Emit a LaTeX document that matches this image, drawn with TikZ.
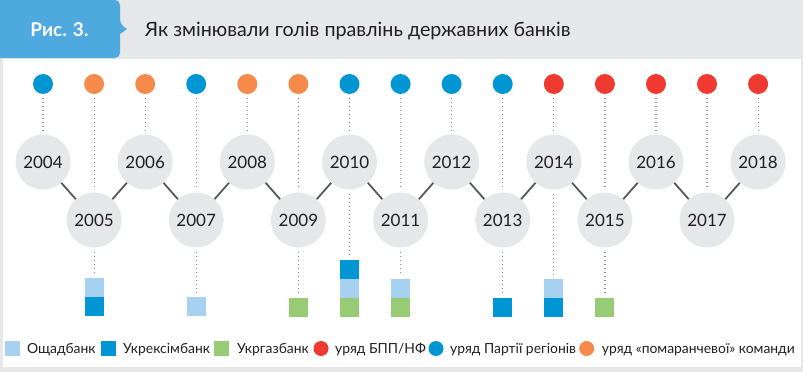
\documentclass[tikz,border=0pt]{standalone}
\usepackage{fontspec}
\setmainfont{Lato}
\usetikzlibrary{positioning}
\definecolor{tabblue}{HTML}{4EA9DE}
\definecolor{bggray}{HTML}{E6E7E8}
\definecolor{circgray}{HTML}{E6E7E8}
\definecolor{linkgray}{HTML}{58595B}
\definecolor{dotgray}{HTML}{8A8C8F}
\definecolor{txtdark}{HTML}{231F20}
\definecolor{oschad}{HTML}{A6D1F1}
\definecolor{ukrexim}{HTML}{0095D3}
\definecolor{ukrgaz}{HTML}{97CB74}
\definecolor{govred}{HTML}{EE3A31}
\definecolor{govblue}{HTML}{0095D3}
\definecolor{govorange}{HTML}{F58A4B}
\newcommand{\fs}[1]{\fontsize{#1}{#1}\selectfont}
\tikzset{
  yearnode/.style={circle, fill=circgray, minimum size=55pt, inner sep=0pt,
                   font=\fs{17}, text=txtdark},
  govdot/.style={circle, fill=#1, minimum size=20pt, inner sep=0pt},
  govdot/.default=govblue,
  bank/.style={rectangle, fill=#1, minimum size=19pt, inner sep=0pt,
               outer sep=0pt},
  lnk/.style={line width=1.8pt, draw=linkgray},
  dots/.style={draw=dotgray, line width=1.2pt, dash pattern=on 1.2pt off 2.8pt,
               shorten <=4pt, shorten >=4pt},
  keysq/.style={rectangle, fill=#1, minimum size=15pt, inner sep=0pt},
  keydot/.style={circle, fill=#1, minimum size=15pt, inner sep=0pt},
  keytxt/.style={anchor=base west, inner sep=0pt, font=\fs{13.9}, text=txtdark},
}

\begin{document}
\begin{tikzpicture}[x=1pt, y=-1pt]
  \useasboundingbox (0,0) rectangle (803,372);
  \fill[bggray] (0,0) rectangle (803,372);
  \fill[white] (3,59) rectangle (801,366.5);
  % title tab
  \fill[tabblue, rounded corners=5pt] (-10,0) -- (120,0) -- (120,24) [sharp corners] -- (127,29) -- (120,34) [rounded corners=5pt] -- (120,58) -- (-10,58) -- cycle;
  \node[anchor=base, inner sep=0pt, font=\fs{19}\bfseries, text=white] (fig) at (59.5,36.5) {Рис. 3.};
  \node[anchor=base west, inner sep=0pt, font=\fs{19.7}, text=txtdark] (title) at (145,36.5) {Як змінювали голів правлінь державних банків};

  % governments
  \node[govdot=govblue] (g2004) at (43.0,84) {};
  \node[govdot=govorange] (g2005) at (94.1,84) {};
  \node[govdot=govorange] (g2006) at (145.2,84) {};
  \node[govdot=govblue] (g2007) at (196.2,84) {};
  \node[govdot=govorange] (g2008) at (247.3,84) {};
  \node[govdot=govorange] (g2009) at (298.4,84) {};
  \node[govdot=govblue] (g2010) at (349.5,84) {};
  \node[govdot=govblue] (g2011) at (400.6,84) {};
  \node[govdot=govblue] (g2012) at (451.6,84) {};
  \node[govdot=govblue] (g2013) at (502.7,84) {};
  \node[govdot=govred] (g2014) at (553.8,84) {};
  \node[govdot=govred] (g2015) at (604.9,84) {};
  \node[govdot=govred] (g2016) at (656.0,84) {};
  \node[govdot=govred] (g2017) at (707.0,84) {};
  \node[govdot=govred] (g2018) at (758.1,84) {};

  % years
  \node[yearnode] (y2004) at (43.0,162) {2004};
  \node[yearnode] (y2005) at (94.1,220) {2005};
  \node[yearnode] (y2006) at (145.2,162) {2006};
  \node[yearnode] (y2007) at (196.2,220) {2007};
  \node[yearnode] (y2008) at (247.3,162) {2008};
  \node[yearnode] (y2009) at (298.4,220) {2009};
  \node[yearnode] (y2010) at (349.5,162) {2010};
  \node[yearnode] (y2011) at (400.6,220) {2011};
  \node[yearnode] (y2012) at (451.6,162) {2012};
  \node[yearnode] (y2013) at (502.7,220) {2013};
  \node[yearnode] (y2014) at (553.8,162) {2014};
  \node[yearnode] (y2015) at (604.9,220) {2015};
  \node[yearnode] (y2016) at (656.0,162) {2016};
  \node[yearnode] (y2017) at (707.0,220) {2017};
  \node[yearnode] (y2018) at (758.1,162) {2018};

  \draw[lnk] (y2004) -- (y2005) -- (y2006) -- (y2007) -- (y2008) -- (y2009) -- (y2010) -- (y2011);
  \draw[lnk] (y2011) -- (y2012) -- (y2013) -- (y2014) -- (y2015) -- (y2016) -- (y2017) -- (y2018);

  % bank heads replaced
  \node[bank=ukrexim] (b2005a) at (94.1,306.5) {};
  \node[bank=oschad, above=0pt of b2005a] (b2005b) {};
  \node[bank=oschad] (b2007a) at (196.2,306.5) {};
  \node[bank=ukrgaz] (b2009a) at (298.4,307.5) {};
  \node[bank=ukrgaz] (b2010a) at (349.5,307.5) {};
  \node[bank=oschad, above=0pt of b2010a] (b2010b) {};
  \node[bank=ukrexim, above=0pt of b2010b] (b2010c) {};
  \node[bank=ukrgaz] (b2011a) at (400.6,307.5) {};
  \node[bank=oschad, above=0pt of b2011a] (b2011b) {};
  \node[bank=ukrexim] (b2013a) at (502.7,307.5) {};
  \node[bank=ukrexim] (b2014a) at (553.8,307.5) {};
  \node[bank=oschad, above=0pt of b2014a] (b2014b) {};
  \node[bank=ukrgaz] (b2015a) at (604.9,307.5) {};

  % dotted leaders
  \draw[dots] (g2004) -- (y2004);
  \draw[dots] (g2005) -- (y2005);
  \draw[dots] (g2006) -- (y2006);
  \draw[dots] (g2007) -- (y2007);
  \draw[dots] (g2008) -- (y2008);
  \draw[dots] (g2009) -- (y2009);
  \draw[dots] (g2010) -- (y2010);
  \draw[dots] (g2011) -- (y2011);
  \draw[dots] (g2012) -- (y2012);
  \draw[dots] (g2013) -- (y2013);
  \draw[dots] (g2014) -- (y2014);
  \draw[dots] (g2015) -- (y2015);
  \draw[dots] (g2016) -- (y2016);
  \draw[dots] (g2017) -- (y2017);
  \draw[dots] (g2018) -- (y2018);
  \draw[dots] (y2005) -- (b2005b);
  \draw[dots] (y2007) -- (b2007a);
  \draw[dots] (y2009) -- (b2009a);
  \draw[dots] (y2010) -- (b2010c);
  \draw[dots] (y2011) -- (b2011b);
  \draw[dots] (y2013) -- (b2013a);
  \draw[dots] (y2014) -- (b2014b);
  \draw[dots] (y2015) -- (b2015a);

  % legend
  \node[keysq=oschad] (k1) at (12.5,348.5) {};
  \node[keytxt] (t1) at (27,353.5) {Ощадбанк};
  \node[keysq=ukrexim] (k2) at (108,348.5) {};
  \node[keytxt] (t2) at (123,353.5) {Укрексімбанк};
  \node[keysq=ukrgaz] (k3) at (221.5,348.5) {};
  \node[keytxt] (t3) at (237,353.5) {Укргазбанк};
  \node[keydot=govred] (k4) at (321,348.5) {};
  \node[keytxt] (t4) at (335,353.5) {уряд БПП/НФ};
  \node[keydot=govblue] (k5) at (436,348.5) {};
  \node[keytxt] (t5) at (450,353.5) {уряд Партії регіонів};
  \node[keydot=govorange] (k6) at (586.7,348.5) {};
  \node[keytxt] (t6) at (601.7,353.5) {уряд «помаранчевої» команди};
\end{tikzpicture}
\end{document}
